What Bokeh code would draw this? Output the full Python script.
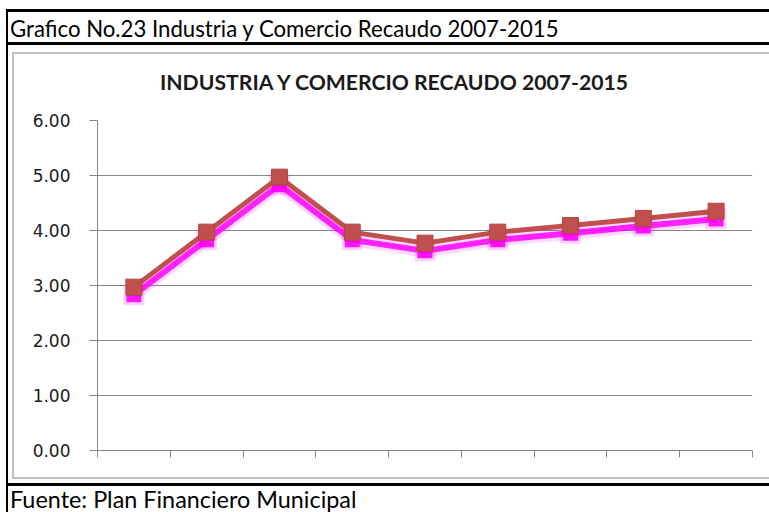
from bokeh.plotting import figure
from bokeh.models import Div, Range1d, FixedTicker, ColumnDataSource
from bokeh.layouts import column, row
from bokeh.embed import file_html
from bokeh.resources import INLINE

# ---- data -------------------------------------------------------------
years = [2007, 2008, 2009, 2010, 2011, 2012, 2013, 2014, 2015]
recaudo = [2.97, 3.97, 4.97, 3.97, 3.77, 3.97, 4.09, 4.22, 4.35]
sombra = [2.83, 3.83, 4.83, 3.83, 3.63, 3.83, 3.95, 4.08, 4.21]
y_ticks = [0, 1, 2, 3, 4, 5, 6]
y_tick_labels = ["0.00", "1.00", "2.00", "3.00", "4.00", "5.00", "6.00"]
header_text = "Grafico No.23 Industria y Comercio Recaudo 2007-2015"
title_text = "INDUSTRIA Y COMERCIO RECAUDO 2007-2015"
footer_text = "Fuente: Plan Financiero Municipal"

# ---- styles -----------------------------------------------------------
RED = "#C0504D"
MAGENTA = "#FF00FF"
GRID = "#868686"
FRAME_GRAY = "#BFBFBF"
TXT = "#1a1a1a"

x_bounds = [y - 0.5 for y in years] + [years[-1] + 0.5]

src = ColumnDataSource(dict(x=years, r=recaudo, s=sombra))

p = figure(width=755, height=383,
           x_range=Range1d(x_bounds[0], x_bounds[-1]),
           y_range=Range1d(y_ticks[0], y_ticks[-1]),
           output_backend="svg", toolbar_location=None,
           min_border_left=83, min_border_right=17,
           min_border_top=26, min_border_bottom=27,
           margin=0)
p.background_fill_color = "white"
p.border_fill_color = "white"
p.outline_line_color = None

# glow / shadow series
p.line("x", "s", source=src, line_color=MAGENTA, line_width=13, line_alpha=0.15)
p.line("x", "s", source=src, line_color=MAGENTA, line_width=6, line_alpha=0.85)
p.scatter("x", "s", source=src, marker="square", size=21,
          fill_color=MAGENTA, fill_alpha=0.18, line_color=None)
p.scatter("x", "s", source=src, marker="square", size=15,
          fill_color=MAGENTA, fill_alpha=0.9, line_color=None)
# main series
p.line("x", "r", source=src, line_color=RED, line_width=5)
p.scatter("x", "r", source=src, marker="square", size=16,
          fill_color=RED, line_color="#B0443F", line_width=1)

# y axis
p.yaxis.ticker = FixedTicker(ticks=y_ticks)
p.yaxis.major_label_overrides = dict(zip(y_ticks, y_tick_labels))
p.yaxis.major_label_text_font = "DejaVu Sans"
p.yaxis.major_label_text_font_size = "17px"
p.yaxis.major_label_text_color = TXT
p.yaxis.major_label_standoff = 19
p.yaxis.major_tick_out = 8
p.yaxis.major_tick_in = 0
p.yaxis.minor_tick_line_color = None
p.yaxis.axis_line_color = GRID
p.yaxis.major_tick_line_color = GRID

# x axis (ticks between categories, no labels)
p.xaxis.ticker = FixedTicker(ticks=x_bounds)
p.xaxis.major_label_overrides = {b: "" for b in x_bounds}
p.xaxis.major_label_text_font_size = "1px"
p.xaxis.major_label_standoff = 0
p.xaxis.major_tick_out = 7
p.xaxis.major_tick_in = 0
p.xaxis.minor_tick_line_color = None
p.xaxis.axis_line_color = GRID
p.xaxis.major_tick_line_color = GRID

p.xgrid.grid_line_color = None
p.ygrid.ticker = FixedTicker(ticks=y_ticks)
p.ygrid.grid_line_color = GRID
p.ygrid.grid_line_width = 1


def bar(w, h, color):
    return Div(width=w, height=h, margin=0, styles={"background-color": color})


def spacer(w, h):
    return Div(width=w, height=h, margin=0)


header = Div(width=761, height=30, margin=0, text=(
    '<div style="font-family:Lato;font-size:22.2px;color:#000;height:30px;'
    'box-sizing:border-box;padding-top:3px;padding-left:2px;line-height:27px;'
    'overflow:hidden;white-space:nowrap">' + header_text + '</div>'))
chart_title = Div(width=755, height=40, margin=0, text=(
    '<div style="font-family:Lato;font-weight:bold;font-size:21.2px;color:'
    + TXT + ';height:40px;box-sizing:border-box;padding-top:15px;'
    'padding-left:146px;line-height:26px;overflow:hidden;white-space:nowrap">'
    + title_text + '</div>'))
footer = Div(width=761, height=26, margin=0, text=(
    '<div style="font-family:Lato;font-size:23.4px;color:#000;height:26px;'
    'padding-left:2px;line-height:26px;overflow:hidden;white-space:nowrap">'
    + footer_text + '</div>'))

chart_box = row(
    spacer(4, 427),
    column(
        bar(757, 2, FRAME_GRAY),
        row(bar(2, 423, FRAME_GRAY),
            column(chart_title, p, margin=0, spacing=0),
            margin=0, spacing=0),
        bar(757, 2, FRAME_GRAY),
        margin=0, spacing=0,
    ),
    margin=0, spacing=0,
)

inner = column(
    header,
    bar(761, 3, "#000000"),
    spacer(761, 7),
    chart_box,
    spacer(761, 4),
    bar(761, 3, "#000000"),
    footer,
    margin=0, spacing=0,
)

layout = column(
    spacer(769, 9),
    row(spacer(6, 3), bar(763, 3, "#000000"), margin=0, spacing=0),
    row(spacer(6, 500), bar(2, 500, "#000000"), inner, margin=0, spacing=0),
    margin=0, spacing=0,
)

open("out.html", "w").write(file_html(layout, INLINE))
